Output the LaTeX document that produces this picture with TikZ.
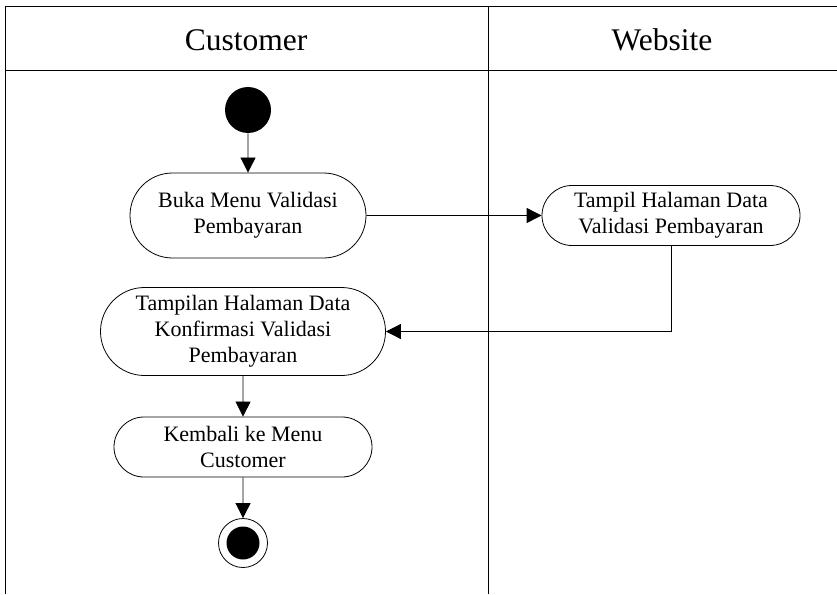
\documentclass[tikz,border=0pt]{standalone}
\usepackage{fontspec}
\setmainfont{Liberation Serif}
\usetikzlibrary{arrows.meta,shapes.misc}

\tikzset{
  act/.style={rounded rectangle, draw, align=center, inner sep=2pt,
    font=\fontsize{22}{26}\selectfont},
  lane/.style={font=\fontsize{31.5}{38}\selectfont}
}

\begin{document}
\begin{tikzpicture}[x=1pt, y=-1pt, line width=0.8pt, >={Triangle[length=15pt,width=15pt]}]
\useasboundingbox (0,0) rectangle (837,594);
\draw (5,594) -- (5,6) -- (837,6);
\draw (5,70) -- (837,70);
\draw (488,6) -- (488,594);
\node[lane] (cust) at (246,40) {Customer};
\node[lane] (web) at (662,40) {Website};
\node[circle, fill, minimum size=46pt, inner sep=0pt] (start) at (248,110) {};
\node[act, minimum width=240pt, minimum height=85pt] (buka) at (248,215.5) {Buka Menu Validasi\\Pembayaran};
\node[act, minimum width=262pt, minimum height=60pt] (tampil) at (671,215.5) {Tampil Halaman Data\\Validasi Pembayaran};
\node[act, minimum width=289pt, minimum height=88pt] (konf) at (243,331.5) {Tampilan Halaman Data\\Konfirmasi Validasi\\Pembayaran};
\node[act, minimum width=262pt, minimum height=60pt] (kembali) at (243,447) {Kembali ke Menu\\Customer};
\node[circle, draw, minimum size=49pt, inner sep=0pt] (end) at (243,543) {};
\node[circle, fill, minimum size=33pt, inner sep=0pt] (endin) at (end) {};
\draw[->] (start) -- (buka);
\draw[->] (buka) -- (tampil);
\draw[->] (tampil.south) |- (konf.east);
\draw[->] (konf) -- (kembali);
\draw[->] (kembali) -- (end);
\end{tikzpicture}
\end{document}
